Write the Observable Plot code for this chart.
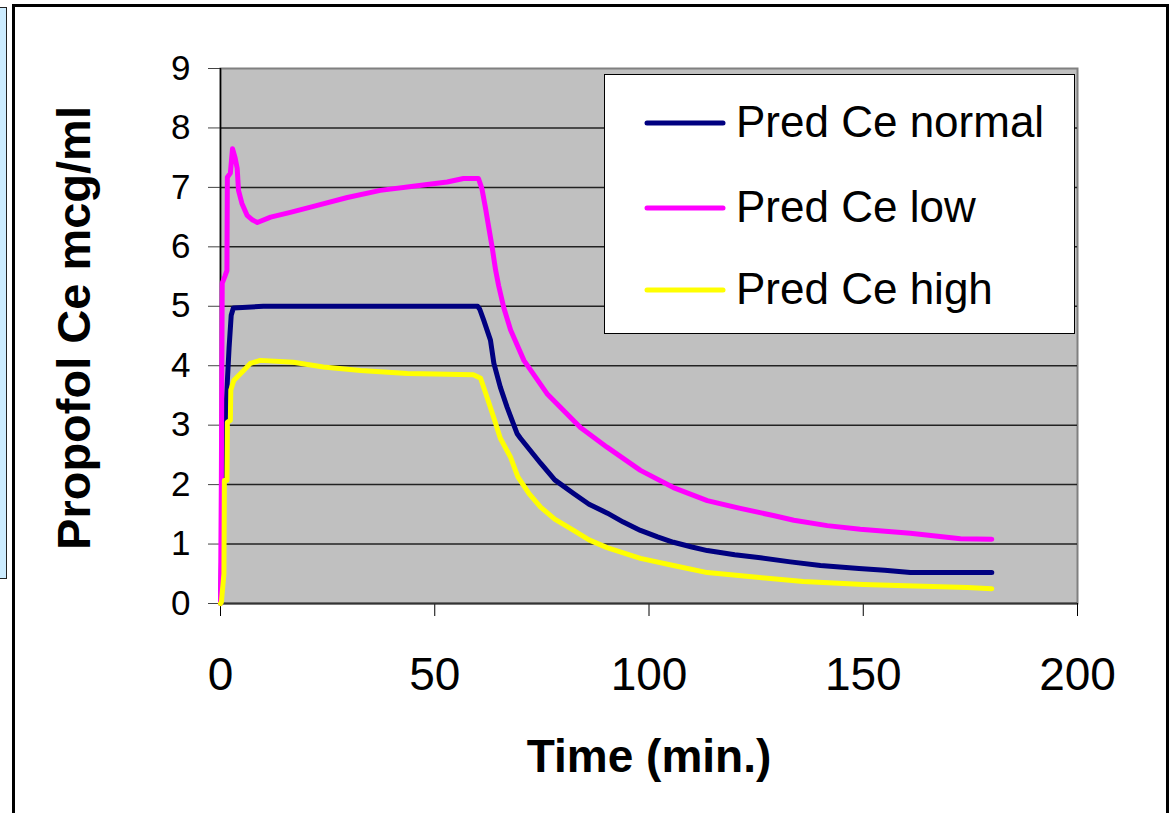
<!DOCTYPE html>
<html>
<head>
<meta charset="utf-8">
<script src="https://cdn.jsdelivr.net/npm/d3@7"></script>
<script src="https://cdn.jsdelivr.net/npm/@observablehq/plot@0.6"></script>
<style>
  html, body { margin: 0; padding: 0; background: #fff; }
  #wrap { position: relative; width: 1169px; height: 813px; overflow: hidden; font-family: "Liberation Sans", Arial, sans-serif; }
  #frame { position: absolute; left: 12px; top: 4px; width: 1151px; height: 830px; border: 3px solid #000; box-sizing: content-box; }
  #side { position: absolute; left: -2px; top: 7px; width: 7px; height: 570px; background: #CCECFF; border: 1.5px solid #222; }
  #chart { position: absolute; left: 0; top: 0; }
  #legend { position: absolute; left: 604px; top: 74px; width: 469px; height: 258px; background: #fff; border: 1px solid #000; }
  .row { position: absolute; left: 0; height: 60px; width: 100%; }
  .row svg { position: absolute; left: 38px; top: 25px; }
  .row span { position: absolute; left: 131px; top: 2px; font-size: 44px; line-height: 52px; color: #000; white-space: nowrap; }
</style>
</head>
<body>
<div id="wrap">
  <div id="side"></div>
  <div id="frame"></div>
  <div id="chart"></div>
  <div id="legend"></div>
</div>
<script>
const seriesNames = ["Pred Ce normal", "Pred Ce low", "Pred Ce high"];
const seriesColors = ["#000080", "#FF00FF", "#FFFF00"];
const xTicks = [0, 50, 100, 150, 200];
const yTicks = [0, 1, 2, 3, 4, 5, 6, 7, 8, 9];

const normalT = [0, 0.5, 1, 1.5, 2, 2.5, 3, 10, 20, 30, 40, 50, 60, 60.5, 61.4, 63, 63.8, 65.3, 66.9, 69.2, 70, 74.7, 78, 82.4, 86, 90.3, 94, 98, 102, 105.7, 110, 113.6, 120, 126, 133, 140, 149, 155, 161, 170, 180];
const normalV = [0, 1.5, 2.8, 3.6, 4.3, 4.85, 4.97, 5.0, 5.0, 5.0, 5.0, 5.0, 5.0, 4.95, 4.77, 4.43, 4.04, 3.64, 3.3, 2.86, 2.78, 2.36, 2.08, 1.85, 1.67, 1.52, 1.37, 1.23, 1.12, 1.03, 0.95, 0.89, 0.82, 0.77, 0.70, 0.64, 0.59, 0.56, 0.52, 0.52, 0.52];

const lowT = [0, 0.2, 0.4, 1.0, 1.5, 1.6, 2.3, 2.8, 3.4, 3.9, 4.2, 5, 6.2, 7.5, 8.6, 11.7, 16.3, 21.7, 29.6, 37.3, 45, 52.9, 56.7, 60.2, 61, 61.8, 62.6, 63.4, 64.2, 64.9, 66.1, 67.7, 70.8, 76.2, 84, 90.2, 98, 105.7, 113.6, 121.3, 129, 133.8, 141.6, 149.3, 161, 172.7, 180];
const lowV = [0, 2.1, 5.39, 5.5, 5.6, 7.17, 7.24, 7.65, 7.5, 7.32, 6.95, 6.73, 6.53, 6.45, 6.41, 6.5, 6.58, 6.68, 6.83, 6.95, 7.02, 7.09, 7.15, 7.15, 6.98, 6.67, 6.33, 5.99, 5.61, 5.35, 4.98, 4.6, 4.09, 3.53, 2.96, 2.63, 2.24, 1.95, 1.73, 1.6, 1.48, 1.4, 1.31, 1.25, 1.18, 1.09, 1.08];

const highT = [0, 0.2, 0.8, 0.9, 1.5, 1.6, 2.3, 2.4, 3.1, 5.4, 7, 9.3, 17, 24, 32.7, 43.6, 50, 59, 60.7, 62.2, 63.8, 65.3, 67.7, 69.4, 72, 74.7, 78, 82.4, 86, 90.2, 94, 98, 105.7, 113.6, 125.2, 136, 150, 160, 174.3, 180];
const highV = [0, 0.02, 0.5, 2.07, 2.07, 3.05, 3.08, 3.59, 3.75, 3.92, 4.04, 4.09, 4.06, 3.98, 3.92, 3.87, 3.86, 3.85, 3.79, 3.47, 3.12, 2.78, 2.46, 2.13, 1.85, 1.62, 1.42, 1.23, 1.07, 0.94, 0.85, 0.76, 0.64, 0.52, 0.44, 0.37, 0.32, 0.30, 0.27, 0.25];

const seriesT = [normalT, lowT, highT];
const seriesV = [normalV, lowV, highV];
const data = seriesNames.flatMap((name, s) => seriesT[s].map((t, i) => ({series: name, t, v: seriesV[s][i]})));

const chart = Plot.plot({
  width: 1169,
  height: 813,
  marginLeft: 220,
  marginRight: 92,
  marginTop: 68,
  marginBottom: 210,
  style: {background: "none", fontFamily: "'Liberation Sans', Arial, sans-serif", fontSize: "35px", color: "#000"},
  x: {domain: [0, 200]},
  y: {domain: [0, 9]},
  color: {domain: seriesNames, range: seriesColors},
  marks: [
    Plot.frame({fill: "#C0C0C0", stroke: "#808080", strokeWidth: 2}),
    Plot.gridY(yTicks.filter(d => d > 0 && d < 9), {stroke: "#222", strokeOpacity: 1, strokeWidth: 1.5}),
    Plot.axisY(yTicks, {tickSize: 12, tickPadding: 18, fontSize: 35, label: null, stroke: "#444", tickFormat: d => String(d)}),
    Plot.axisX(xTicks, {tickSize: 13, tickPadding: 41, fontSize: 46, label: null, tickFormat: d => String(d)}),
    Plot.ruleX([0], {stroke: "#000", strokeWidth: 1.5}),
    Plot.ruleY([0], {stroke: "#333", strokeWidth: 2}),
    Plot.line(data, {x: "t", y: "v", z: "series", stroke: "series", strokeWidth: 5, strokeLinejoin: "round", strokeLinecap: "round"}),
    Plot.text(["Time (min.)"], {frameAnchor: "bottom", textAnchor: "middle", dy: 168, fontSize: 46, fontWeight: "bold", fill: "#000"}),
    Plot.text(["Propofol Ce mcg/ml"], {frameAnchor: "left", textAnchor: "middle", rotate: -90, dx: -146, dy: -8, fontSize: 47, fontWeight: "bold", fill: "#000"})
  ]
});
document.getElementById("chart").appendChild(chart);

const legend = document.getElementById("legend");
const rowCenters = [47, 132, 214];
seriesNames.forEach((name, i) => {
  const row = document.createElement("div");
  row.className = "row";
  row.style.top = (rowCenters[i] - 28) + "px";
  row.innerHTML = `<svg width="84" height="8"><line x1="4" y1="4" x2="80" y2="4" stroke="${seriesColors[i]}" stroke-width="5" stroke-linecap="round"/></svg><span>${name}</span>`;
  legend.appendChild(row);
});
</script>
</body>
</html>
